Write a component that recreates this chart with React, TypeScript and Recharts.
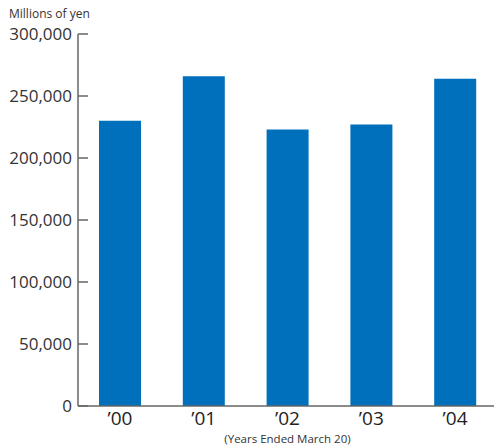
import React from 'react';
import { BarChart, Bar, XAxis, YAxis, Label } from 'recharts';

const years = ['’00', '’01', '’02', '’03', '’04'];
const sales = [230000, 266000, 223000, 227000, 264000];
const yTicks = [0, 50000, 100000, 150000, 200000, 250000, 300000];

const data = years.map((year, i) => ({ year, value: sales[i] }));

const FONT = '"Open Sans", "Noto Sans", sans-serif';
const AXIS_COLOR = '#666';
const BAR_COLOR = '#006fbc';
const Y_AXIS_WIDTH = 78;

// y tick: label to the left of the axis, short tick pointing into the plot
const YTick = (props: any) => {
  const { y, payload } = props;
  return (
    <g>
      <line x1={Y_AXIS_WIDTH} x2={Y_AXIS_WIDTH + 10} y1={y} y2={y} stroke={AXIS_COLOR} strokeWidth={1.5} />
      <text x={Y_AXIS_WIDTH - 6} y={y} dy={6} textAnchor="end" fontSize={17} fill="#333" fontFamily={FONT}>
        {payload.value.toLocaleString('en-US')}
      </text>
    </g>
  );
};

const XTick = (props: any) => {
  const { x, y, payload } = props;
  return (
    <text x={x} y={y} dy={11} textAnchor="middle" fontSize={19} fill="#222" fontFamily={FONT}>
      {payload.value}
    </text>
  );
};

const App = () => {
  return (
    <div style={{ position: 'absolute', left: 0, top: 0, width: 494, height: 445, overflow: 'hidden', background: '#fff' }}>
      <div style={{ position: 'absolute', left: 9, top: 5, fontSize: 12, color: '#333', fontFamily: FONT }}>
        Millions of yen
      </div>
      <BarChart width={497} height={445} data={data} margin={{ top: 34, right: 0, bottom: 0, left: 0 }}>
        <XAxis
          dataKey="year"
          height={39}
          axisLine={{ stroke: AXIS_COLOR, strokeWidth: 1.5 }}
          tickLine={false}
          tick={<XTick />}
          interval={0}
        >
          <Label
            value="(Years Ended March 20)"
            position="insideBottom"
            offset={2}
            style={{ fontSize: 11.5, fill: '#333', fontFamily: FONT }}
          />
        </XAxis>
        <YAxis
          width={Y_AXIS_WIDTH}
          domain={[0, 300000]}
          ticks={yTicks}
          axisLine={{ stroke: AXIS_COLOR, strokeWidth: 1.5 }}
          tickLine={false}
          tick={<YTick />}
          interval={0}
        />
        <Bar dataKey="value" fill={BAR_COLOR} barSize={42} isAnimationActive={false} />
      </BarChart>
    </div>
  );
};

export default App;
